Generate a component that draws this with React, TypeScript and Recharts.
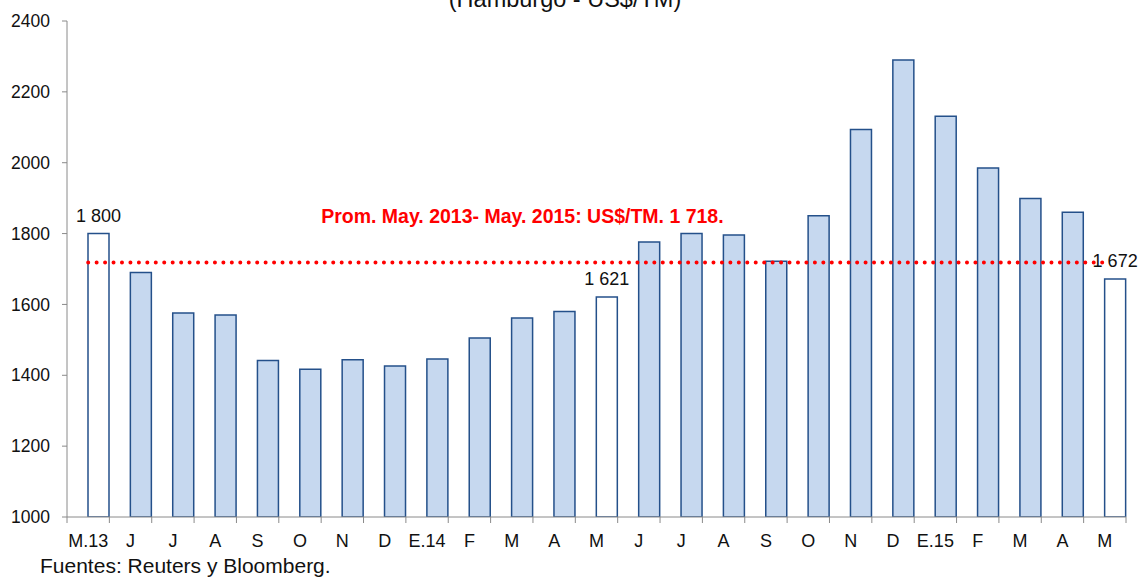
import React from 'react';
import { BarChart, Bar, XAxis, YAxis, ReferenceLine, LabelList, Cell } from 'recharts';

const months = ['M.13', 'J', 'J', 'A', 'S', 'O', 'N', 'D', 'E.14', 'F', 'M', 'A', 'M', 'J', 'J', 'A', 'S', 'O', 'N', 'D', 'E.15', 'F', 'M', 'A', 'M'];
const prices = [1800, 1690, 1576, 1570, 1442, 1417, 1444, 1426, 1446, 1505, 1562, 1580, 1621, 1776, 1800, 1796, 1722, 1850, 2094, 2290, 2131, 1985, 1899, 1860, 1672];
const highlighted = [0, 12, 24];
const average = 1718;
const yTicks = [1000, 1200, 1400, 1600, 1800, 2000, 2200, 2400];

const W = 1139;
const H = 577;
const M = { top: 21, right: 13, left: 7, bottom: 30 };
const Y_AXIS_W = 60;
const X_AXIS_H = 30;
const PLOT_BOTTOM = H - M.bottom - X_AXIS_H;
const BAND = (W - M.left - Y_AXIS_W - M.right) / months.length;

const FONT = '"Liberation Sans", Arial, sans-serif';
const AXIS = '#8a8a8a';
const BAR_FILL = '#c6d8ef';
const BAR_STROKE = '#24508a';

// 1800 -> "1 800"
const fmt = (v: number) => v.toLocaleString('en-US').replace(',', ' ');

const data = months.map((m, i) => ({
    id: i,
    blank: null,
    price: prices[i],
    tag: highlighted.includes(i) ? fmt(prices[i]) : null,
}));

const MonthTick = (props: any) => {
    const { x, payload, index } = props;
    const half = BAND / 2;
    return (
        <g>
            <line x1={x - half} x2={x - half} y1={PLOT_BOTTOM} y2={PLOT_BOTTOM + 6} stroke={AXIS} />
            {index === months.length - 1 && (
                <line x1={x + half} x2={x + half} y1={PLOT_BOTTOM} y2={PLOT_BOTTOM + 6} stroke={AXIS} />
            )}
            <text x={x} y={PLOT_BOTTOM + 30} textAnchor="middle" fontSize={18} fontFamily={FONT} fill="#111">
                {months[payload.value]}
            </text>
        </g>
    );
};

const ValueLabel = (props: any) => {
    const { x, y, width, value } = props;
    if (value == null) return null;
    return (
        <text x={x + width / 2} y={y - 12} textAnchor="middle" fontSize={18} fontFamily={FONT} fill="#111">
            {value}
        </text>
    );
};

const AvgLabel = ({ viewBox }: any) => {
    if (!viewBox) return null;
    return (
        <text
            x={viewBox.x + 233}
            y={viewBox.y - 40}
            fontSize={19.5}
            fontWeight="bold"
            fontFamily={FONT}
            fill="#ff0000"
        >
            {`Prom. May. 2013- May. 2015: US$/TM. ${fmt(average)}.`}
        </text>
    );
};

const App: React.FC = () => {
    return (
        <div style={{ position: 'absolute', left: 0, top: 0, width: W, height: H, background: '#fff' }}>
            <BarChart
                width={W}
                height={H}
                data={data}
                margin={M}
                barCategoryGap={0}
                barGap={0}
            >
                <XAxis
                    dataKey="id"
                    type="category"
                    height={X_AXIS_H}
                    tickLine={false}
                    axisLine={{ stroke: AXIS }}
                    tick={<MonthTick />}
                    interval={0}
                />
                <YAxis
                    width={Y_AXIS_W}
                    domain={[1000, 2400]}
                    ticks={yTicks}
                    interval={0}
                    tickSize={5}
                    tickMargin={12}
                    tickLine={{ stroke: AXIS }}
                    axisLine={{ stroke: AXIS }}
                    tick={{ fill: '#111', fontSize: 17.5, fontFamily: FONT }}
                    allowDataOverflow
                />
                <Bar dataKey="blank" isAnimationActive={false} />
                <Bar dataKey="price" stroke={BAR_STROKE} strokeWidth={1.5} isAnimationActive={false}>
                    {data.map((d, i) => (
                        <Cell key={i} fill={highlighted.includes(i) ? '#ffffff' : BAR_FILL} />
                    ))}
                    <LabelList dataKey="tag" content={<ValueLabel />} />
                </Bar>
                <ReferenceLine
                    segment={[{ x: 0, y: average }, { x: months.length - 1, y: average }]}
                    stroke="#ff0000"
                    strokeWidth={4}
                    strokeDasharray="0 8.45"
                    strokeLinecap="round"
                    label={<AvgLabel />}
                />
            </BarChart>
            <svg width={W} height={H} style={{ position: 'absolute', left: 0, top: 0, pointerEvents: 'none' }}>
                <text x={565} y={7} textAnchor="middle" fontSize={23.5} fontFamily={FONT} fill="#111">
                    (Hamburgo - US$/TM)
                </text>
                <text x={40} y={573} fontSize={21} fontFamily={FONT} fill="#111">
                    Fuentes: Reuters y Bloomberg.
                </text>
            </svg>
        </div>
    );
};

export default App;
